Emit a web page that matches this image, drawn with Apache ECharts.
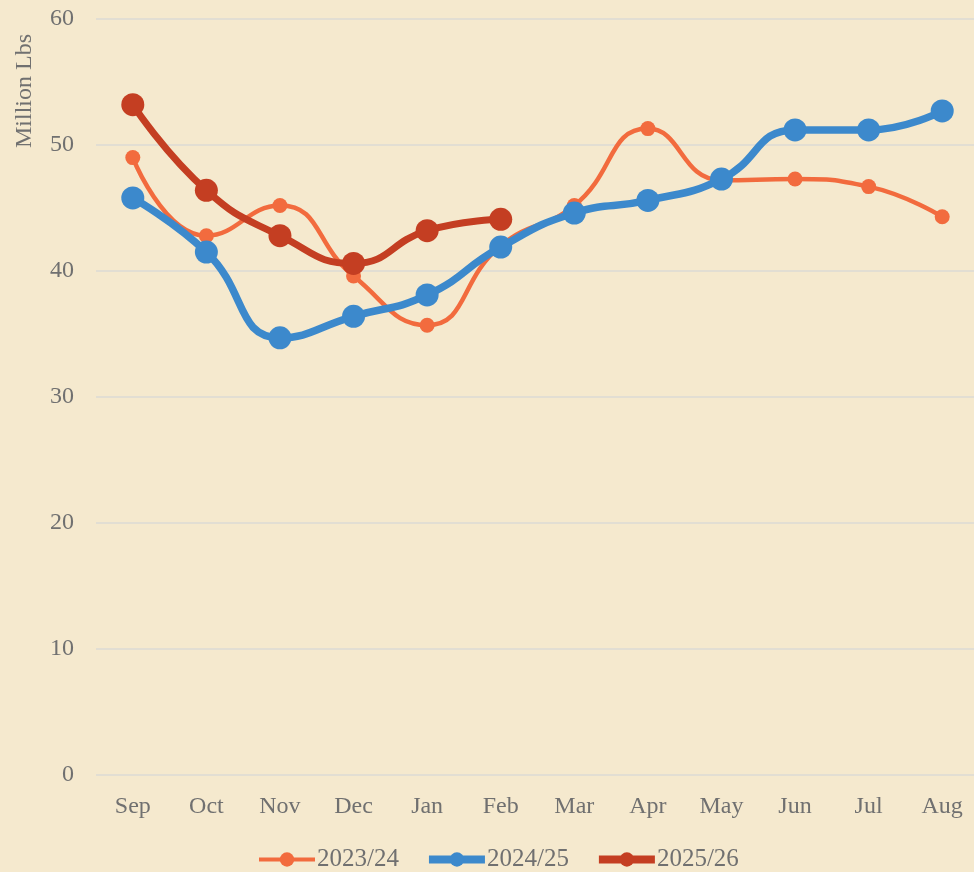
<!DOCTYPE html>
<html><head><meta charset="utf-8">
<script src="https://cdn.jsdelivr.net/npm/echarts@6/dist/echarts.min.js"></script>
<style>html,body{margin:0;padding:0;background:#F5E9CE;overflow:hidden;}#c{width:974px;height:872px;}</style>
</head><body><div id="c"></div>
<script>
const categories = ['Sep','Oct','Nov','Dec','Jan','Feb','Mar','Apr','May','Jun','Jul','Aug'];
const s2023 = [49.0, 42.8, 45.2, 39.6, 35.7, 42.0, 45.2, 51.3, 47.2, 47.3, 46.7, 44.3];
const s2024 = [45.8, 41.5, 34.7, 36.4, 38.1, 41.9, 44.6, 45.6, 47.3, 51.2, 51.2, 52.7];
const s2025 = [53.2, 46.4, 42.8, 40.6, 43.2, 44.1];
const seriesNames = ['2023/24','2024/25','2025/26'];
const yTicks = [0, 10, 20, 30, 40, 50, 60];
const yTitle = 'Million Lbs';

const font = "'Liberation Serif','Times New Roman',serif";
const grey = '#707070';
const colors = ['#F26B3E', '#3C89CC', '#C43E22'];
const chart = echarts.init(document.getElementById('c'));
chart.setOption({
  backgroundColor: '#F5E9CE',
  animation: false,
  grid: {left: 96, width: 883, top: 19, bottom: 97, outerBoundsMode: 'none', containLabel: false},
  legend: {
    top: 842, left: 252, itemGap: 26, itemWidth: 56, itemHeight: 18,
    textStyle: {fontFamily: font, fontSize: 25, color: grey, padding: [0,0,0,-3]},
    data: [
      {name: seriesNames[0], lineStyle: {width: 4}},
      {name: seriesNames[1], lineStyle: {width: 8}},
      {name: seriesNames[2], lineStyle: {width: 8}}
    ]
  },
  graphic: [{
    type: 'text', x: 25, y: 91, rotation: Math.PI / 2,
    style: {text: yTitle, fontFamily: font, fontSize: 24, fill: grey, align: 'center', verticalAlign: 'middle'}
  }],
  xAxis: {
    type: 'category', data: categories, boundaryGap: true,
    axisLine: {show: false}, axisTick: {show: false},
    axisLabel: {fontFamily: font, fontSize: 24, color: grey, margin: 20}
  },
  yAxis: {
    type: 'value', min: yTicks[0], max: yTicks[yTicks.length-1], interval: 10,
    axisLine: {show: false}, axisTick: {show: false},
    axisLabel: {fontFamily: font, fontSize: 24, color: grey, margin: 22},
    splitLine: {lineStyle: {color: '#E2DED3', width: 2}}
  },
  series: [
    {name: seriesNames[0], type: 'line', data: s2023, smooth: 0.5, symbol: 'circle', symbolSize: 15,
     itemStyle: {color: colors[0]}, lineStyle: {width: 4.5, color: colors[0]}, z: 2},
    {name: seriesNames[1], type: 'line', data: s2024, smooth: 0.5, symbol: 'circle', symbolSize: 23,
     itemStyle: {color: colors[1]}, lineStyle: {width: 7.5, color: colors[1]}, z: 3},
    {name: seriesNames[2], type: 'line', data: s2025, smooth: 0.5, symbol: 'circle', symbolSize: 23,
     itemStyle: {color: colors[2]}, lineStyle: {width: 7, color: colors[2]}, z: 4}
  ]
});
</script></body></html>
